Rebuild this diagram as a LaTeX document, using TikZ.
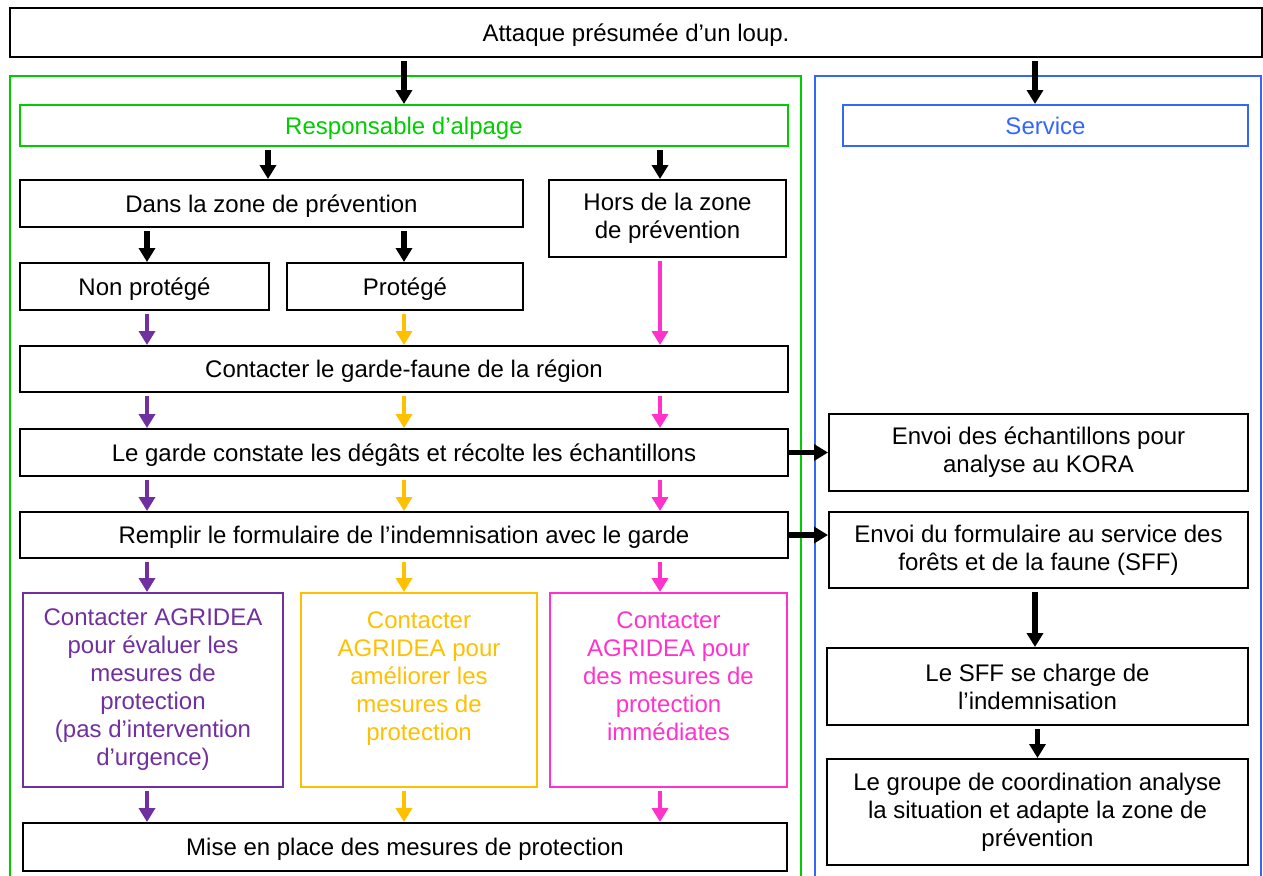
\documentclass[tikz,border=0pt]{standalone}
\usepackage{fontspec}
\setmainfont{Liberation Sans}
\usetikzlibrary{arrows.meta}

\definecolor{alpgreen}{HTML}{00CC00}
\definecolor{servblue}{HTML}{3366FF}
\definecolor{colpurple}{HTML}{7030A0}
\definecolor{colorange}{HTML}{FFC000}
\definecolor{colpink}{HTML}{FF33CC}

\tikzset{
	box/.style={draw, line width=1pt, align=center, inner sep=0pt, font=\fontsize{12}{14}\selectfont},
	onebox/.style={box, text height=8.5pt, text depth=0pt},
	agrbox/.style={box, draw=#1, text=#1, minimum height=97pt},
	arr/.style={line width=2.6pt, -{Triangle[width=8pt,length=7pt]}, shorten <=1.5pt},
	colarr/.style={arr, line width=2.2pt, draw=#1},
}

\begin{document}
\begin{tikzpicture}[x=0.5pt, y=-0.5pt]
		%%%%% START %%%%%
		\useasboundingbox (0, 0) rectangle (1263, 875);
		
		% columns of the arrows
		\coordinate (cP) at (147, 0);
		\coordinate (cO) at (404, 0);
		\coordinate (cK) at (660, 0);
		\coordinate (cD) at (268, 0);
		\coordinate (cS) at (1035, 0);
		
		% frames, open at the bottom
		\draw[line width=1pt, alpgreen] (10, 877) -- (10, 76) -- (801, 76) -- (801, 877);
		\draw[line width=1pt, servblue] (815, 877) -- (815, 76) -- (1261, 76) -- (1261, 877);
		
		\node[onebox, minimum width=626pt, minimum height=24.5pt] (top) at (636, 32.5) {Attaque présumée d’un loup.};
		
		\node[onebox, draw=alpgreen, text=alpgreen, minimum width=384pt, minimum height=20.5pt] (resp) at (404, 125.5) {Responsable d’alpage};
		\node[onebox, draw=servblue, text=servblue, minimum width=202.5pt, minimum height=20.5pt] (serv) at (1045.5, 125.5) {Service};
		
		\node[onebox, minimum width=251.5pt, minimum height=23.5pt] (dans) at (271.5, 203.5) {Dans la zone de prévention};
		\node[box, minimum width=118.5pt, minimum height=38.5pt] (hors) at (667.5, 218.5) {Hors de la zone\\de prévention};
		\node[onebox, minimum width=124.5pt, minimum height=23.5pt] (non) at (144.5, 286.5) {Non protégé};
		\node[onebox, minimum width=118pt, minimum height=23.5pt] (prot) at (405, 286.5) {Protégé};
		
		\node[onebox, minimum width=384pt, minimum height=23pt] (garde) at (404, 369) {Contacter le garde-faune de la région};
		\node[onebox, minimum width=384pt, minimum height=23.5pt] (constat) at (404, 452.5) {Le garde constate les dégâts et récolte les échantillons};
		\node[onebox, minimum width=384pt, minimum height=23pt] (form) at (404, 535) {Remplir le formulaire de l’indemnisation avec le garde};
		
		\node[agrbox=colpurple, minimum width=130pt] (agrp) at (153, 690) {Contacter AGRIDEA\\pour évaluer les\\mesures de\\protection\\(pas d’intervention\\d’urgence)};
		\node[agrbox=colorange, minimum width=118pt] (agro) at (419, 690) {Contacter\\AGRIDEA pour\\améliorer les\\mesures de\\protection\\~};
		\node[agrbox=colpink, minimum width=118.5pt] (agrk) at (668.5, 690) {Contacter\\AGRIDEA pour\\des mesures de\\protection\\immédiates\\~};
		
		\node[onebox, minimum width=382pt, minimum height=24pt] (mise) at (405, 847) {Mise en place des mesures de protection};
		
		\node[box, minimum width=209.5pt, minimum height=38.5pt] (kora) at (1038.5, 452.5) {Envoi des échantillons pour\\analyse au KORA};
		\node[box, minimum width=209.5pt, minimum height=38pt] (envoi) at (1038.5, 550) {Envoi du formulaire au service des\\forêts et de la faune (SFF)};
		\node[box, minimum width=210.5pt, minimum height=38.5pt] (sff) at (1037.5, 686.5) {Le SFF se charge de\\l’indemnisation};
		\node[box, minimum width=210.5pt, minimum height=53pt] (coord) at (1037.5, 812) {Le groupe de coordination analyse\\la situation et adapte la zone de\\prévention};
		
		% black arrows
		\draw[arr] (top.south -| cO) -- (resp.north -| cO);
		\draw[arr] (top.south -| cS) -- (serv.north -| cS);
		\draw[arr] (resp.south -| cD) -- (dans.north -| cD);
		\draw[arr] (resp.south -| cK) -- (hors.north -| cK);
		\draw[arr] (dans.south -| cP) -- (non.north -| cP);
		\draw[arr] (dans.south -| cO) -- (prot.north -| cO);
		
		% coloured arrows
		\draw[colarr=colpurple] (non.south -| cP) -- (garde.north -| cP);
		\draw[colarr=colorange] (prot.south -| cO) -- (garde.north -| cO);
		\draw[colarr=colpink] (hors.south -| cK) -- (garde.north -| cK);
		\foreach \a/\b in {garde/constat, constat/form} {
			\draw[colarr=colpurple] (\a.south -| cP) -- (\b.north -| cP);
			\draw[colarr=colorange] (\a.south -| cO) -- (\b.north -| cO);
			\draw[colarr=colpink] (\a.south -| cK) -- (\b.north -| cK);
		}
		\draw[colarr=colpurple] (form.south -| cP) -- (agrp.north -| cP);
		\draw[colarr=colorange] (form.south -| cO) -- (agro.north -| cO);
		\draw[colarr=colpink] (form.south -| cK) -- (agrk.north -| cK);
		\draw[colarr=colpurple] (agrp.south -| cP) -- (mise.north -| cP);
		\draw[colarr=colorange] (agro.south -| cO) -- (mise.north -| cO);
		\draw[colarr=colpink] (agrk.south -| cK) -- (mise.north -| cK);
		
		% to the service
		\draw[arr, shorten <=0pt] (constat.east) -- (kora.west |- constat.east);
		\draw[arr, shorten <=0pt] (form.east) -- (envoi.west |- form.east);
		\draw[arr] (envoi.south -| cS) -- (sff.north -| cS);
		\draw[arr] (sff.south) -- (coord.north);
		
		%%%%% END %%%%%
\end{tikzpicture}
\end{document}
